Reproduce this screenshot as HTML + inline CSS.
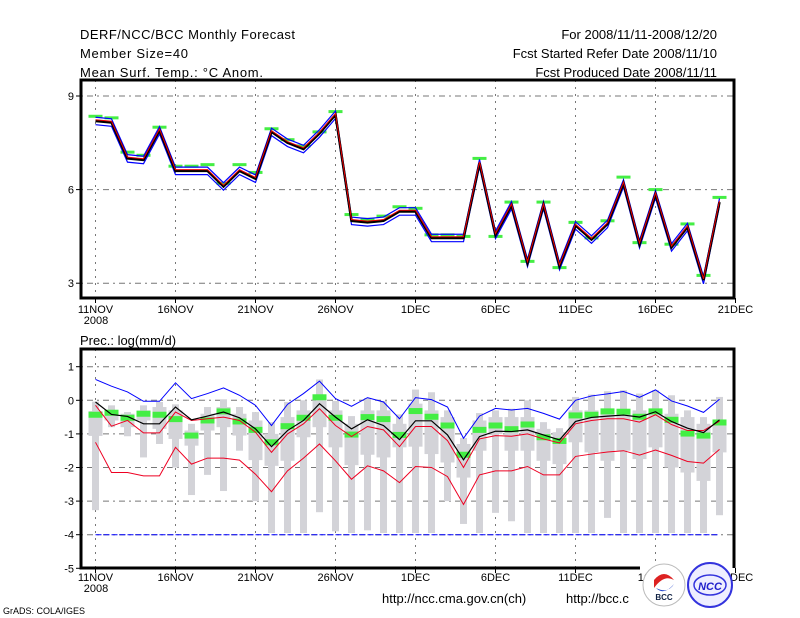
<!DOCTYPE html>
<html><head><meta charset="utf-8"><style>
body{margin:0;background:#fff;}
svg{display:block;font-family:"Liberation Sans",sans-serif;}
</style></head><body>
<svg id="c" width="800" height="618" viewBox="0 0 800 618" xmlns="http://www.w3.org/2000/svg">
<rect width="800" height="618" fill="#fff"/>
<g font-size="13" fill="#000">
<text x="80" y="39" textLength="215">DERF/NCC/BCC Monthly Forecast</text>
<text x="80" y="58" textLength="108">Member Size=40</text>
<text x="80" y="77" textLength="183">Mean Surf. Temp.: °C Anom.</text>
<text x="717" y="39" text-anchor="end">For 2008/11/11-2008/12/20</text>
<text x="717" y="58" text-anchor="end">Fcst Started Refer Date 2008/11/10</text>
<text x="717" y="77" text-anchor="end">Fcst Produced Date 2008/11/11</text>
<text x="80" y="345">Prec.: log(mm/d)</text>
<text x="382" y="603">http://ncc.cma.gov.cn(ch)</text>
<text x="566" y="603">http://bcc.c</text>
<text x="3" y="614" font-size="9">GrADS: COLA/IGES</text>
</g>
<g id="top"></g>
<g id="bot"></g>
<g>
<circle cx="664" cy="585" r="21" fill="#fff" stroke="#bbb"/>
<path d="M654 580 q10 -12 20 0 q-10 -6 -20 8z" fill="#d22"/>
<path d="M656 588 q8 8 18 -4 q-6 10 -18 4z" fill="#24c"/>
<text x="664" y="600" font-size="8" font-weight="bold" text-anchor="middle" fill="#124">BCC</text>
<circle cx="710" cy="585" r="22" fill="#eef" stroke="#33d" stroke-width="2"/>
<ellipse cx="710" cy="585" rx="16" ry="10" fill="none" stroke="#33d" stroke-width="1.5"/>
<text x="710" y="590" font-size="11" font-style="italic" font-weight="bold" text-anchor="middle" fill="#22c">NCC</text>
</g>
</svg>
<script>
const ns="http://www.w3.org/2000/svg";
const days=40;
const xTickLabels=["11NOV","16NOV","21NOV","26NOV","1DEC","6DEC","11DEC","16DEC","21DEC"];
const tempTicks=[9,6,3];
const precTicks=[1,0,-1,-2,-3,-4,-5];
const tempMean=[8.2,8.15,7.0,6.95,7.9,6.6,6.6,6.6,6.1,6.6,6.35,7.85,7.5,7.3,7.8,8.4,5.0,4.95,5.0,5.3,5.3,4.45,4.45,4.45,6.85,4.55,5.5,3.65,5.5,3.55,4.85,4.4,4.9,6.2,4.25,5.85,4.15,4.8,3.1,5.6];
const tempObsMark=[8.35,8.3,7.2,7.1,8.0,6.75,6.75,6.8,6.2,6.8,6.55,7.95,7.6,7.4,7.85,8.5,5.2,5.05,5.15,5.45,5.4,4.55,4.55,4.5,7.0,4.5,5.6,3.7,5.6,3.5,4.95,4.45,5.0,6.4,4.3,6.0,4.25,4.9,3.25,5.75];
const precMax=[.62,.42,.25,-.03,-.03,.52,.05,.2,.37,.15,-.15,-.75,-.12,.2,.57,.05,-.18,.08,-.05,-.55,.08,.02,-.2,-1.13,-.47,-.24,-.29,-.24,-.39,-.56,0,.13,.19,.26,.09,.31,-.02,-.17,-.36,.03];
const precMean=[-.05,-.42,-.48,-.7,-.7,-.2,-.58,-.47,-.35,-.52,-.85,-1.38,-.9,-.6,-.1,-.5,-.85,-.58,-.75,-1.17,-.61,-.61,-1.03,-1.77,-1.08,-.92,-.93,-.88,-1.03,-1.18,-.63,-.51,-.47,-.44,-.5,-.34,-.63,-.83,-.96,-.58];
const precRedHi=[-.15,-.77,-.6,-.97,-.97,-.35,-.6,-.55,-.5,-.6,-.95,-1.55,-1.0,-.7,-.25,-.75,-1.08,-.78,-.88,-1.38,-.78,-.78,-1.2,-2.0,-1.15,-1.05,-1.07,-1.0,-1.15,-1.27,-.7,-.6,-.55,-.55,-.65,-.43,-.72,-.9,-.9,-.62];
const precRedLo=[-1.25,-2.15,-2.15,-2.25,-2.25,-1.4,-1.9,-1.72,-1.72,-1.78,-2.2,-2.72,-2.1,-1.72,-1.3,-1.8,-2.35,-1.95,-2.1,-2.45,-1.97,-2.0,-2.27,-3.1,-2.22,-2.1,-2.1,-1.97,-2.22,-2.22,-1.67,-1.6,-1.54,-1.5,-1.63,-1.48,-1.64,-1.82,-1.87,-1.46];
const precGreen=[-.43,-.37,-.52,-.4,-.43,-.56,-1.05,-.6,-.33,-.63,-.88,-1.25,-.77,-.52,.09,-.52,-1.02,-.5,-.56,-1.03,-.32,-.49,-.75,-1.62,-.88,-.75,-.86,-.72,-1.1,-1.21,-.45,-.43,-.33,-.34,-.49,-.33,-.58,-.99,-1.05,-.66];
const whiskHi=[-.04,-.15,-.35,-.15,-.05,-.12,-.7,-.2,.03,-.2,-.35,-.65,-.05,0,.62,-.02,-.47,.07,-.02,-.42,.32,.24,-.3,-1.12,-.38,-.3,-.25,0,-.65,-.83,.1,.17,.27,.3,.2,.3,.15,-.3,-.5,.1];
const whiskLo=[-3.27,-.8,-1.07,-1.7,-1.3,-2.0,-2.82,-2.22,-2.7,-1.5,-3.0,-3.95,-3.95,-3.95,-3.33,-3.9,-3.95,-3.87,-3.95,-3.95,-3.95,-3.95,-3.0,-3.68,-3.95,-3.35,-3.6,-3.95,-3.95,-3.95,-3.95,-3.95,-3.5,-3.95,-3.95,-3.95,-3.95,-3.95,-3.95,-3.42];
const boxHi=[-.32,-.3,-.4,-.3,-.2,-.3,-.9,-.4,-.2,-.4,-.6,-1.0,-.5,-.3,0,-.3,-.7,-.3,-.3,-.7,-.1,-.3,-.5,-1.3,-.6,-.5,-.5,-.5,-.85,-.95,-.3,-.3,-.3,-.3,-.3,-.3,-.4,-.5,-.7,-.6];
const boxLo=[-1.06,-.6,-.8,-.6,-.85,-1.15,-1.35,-.9,-.8,-1.05,-1.78,-1.95,-1.8,-1.1,-.8,-1.4,-1.93,-1.62,-1.7,-1.4,-1.38,-1.6,-1.85,-2.3,-1.5,-1.0,-1.5,-1.5,-1.8,-1.9,-1.25,-1.55,-1.8,-1.5,-1.75,-1.4,-2.0,-2.15,-2.4,-1.55];
const precFloor=-4;

const X=d=>95.5+16*d;
const YT=v=>96+(9-v)*31.2;
const YB=v=>400.3-33.6*v;
function mk(p,t,a){const e=document.createElementNS(ns,t);for(const k in a)e.setAttribute(k,a[k]);p.appendChild(e);return e;}
function line(p,arr,yf,color,w,name){const e=mk(p,'polyline',{points:arr.map((v,i)=>X(i)+','+yf(v)).join(' '),fill:'none',stroke:color,'stroke-width':w});

return e;}
function grid(p,top,bot,yt,ticks,yf){
 for(let k=0;k<xTickLabels.length;k++){const x=X(k*5);
  if(k<8){const g=mk(p,'line',{x1:x,x2:x,y1:top,y2:bot,stroke:'#777','stroke-dasharray':'2,5'});
  
  }
  mk(p,'line',{x1:x,x2:x,y1:bot,y2:bot+5,stroke:'#000'});
  const t=mk(p,'text',{x:x,y:yt,'font-size':'11','text-anchor':'middle'});t.textContent=xTickLabels[k];
  
  }
 const t2=mk(p,'text',{x:96,y:yt+11,'font-size':'11','text-anchor':'middle'});t2.textContent='2008';
 
 
 ticks.forEach(v=>{const y=yf(v);
  const g=mk(p,'line',{x1:81,x2:734,y1:y,y2:y,stroke:'#777','stroke-dasharray':'2,4,6,4'});
  
  
  mk(p,'line',{x1:76,x2:81,y1:y,y2:y,stroke:'#000'});
  const t=mk(p,'text',{x:74,y:y+4,'font-size':'11','text-anchor':'end'});t.textContent=v;
  
  });
}
const T=document.getElementById('top');
grid(T,80,298,313,tempTicks,YT);
tempObsMark.forEach((v,i)=>{const r=mk(T,'rect',{x:X(i)-7,y:YT(v)-1.5,width:14,height:3,fill:'#4e4'});
 
 });
line(T,tempMean.map(v=>v-0.12),YT,'#00f',1.2,'temp-lower-bound');
line(T,tempMean.map(v=>v+0.12),YT,'#00f',1.2,'temp-upper-bound');
line(T,tempMean,YT,'#000',2.5,'temp-mean');
line(T,tempMean.map(v=>v+0.04),YT,'#e00',1,'temp-median');
const f1=mk(T,'rect',{x:81,y:80,width:653,height:218,fill:'none',stroke:'#000','stroke-width':3});


const B=document.getElementById('bot');
grid(B,349,568,581,precTicks.slice(0,6),YB);
mk(B,'line',{x1:76,x2:81,y1:YB(-5),y2:YB(-5),stroke:'#000'});
const t5=mk(B,'text',{x:74,y:YB(-5)+4,'font-size':'11','text-anchor':'end'});t5.textContent='-5';


for(let i=0;i<days;i++){
 const w=mk(B,'rect',{x:X(i)-3.5,y:YB(whiskHi[i]),width:7,height:YB(whiskLo[i])-YB(whiskHi[i]),fill:'#d3d3d8'});
 
 
 const b=mk(B,'rect',{x:X(i)-7,y:YB(boxHi[i]),width:14,height:YB(boxLo[i])-YB(boxHi[i]),fill:'#d3d3d8'});
 
 
}
precGreen.forEach((v,i)=>{const r=mk(B,'rect',{x:X(i)-7,y:YB(v)-3,width:14,height:6,fill:'#4e4'});
 
 });
const fl=mk(B,'line',{x1:X(0),x2:X(days-1),y1:YB(precFloor),y2:YB(precFloor),stroke:'#00f','stroke-width':1,'stroke-dasharray':'6,2'});


line(B,precMax,YB,'#00f',1,'prec-max');
line(B,precRedLo,YB,'#e02',1,'prec-lower');
line(B,precRedHi,YB,'#e02',1,'prec-upper');
line(B,precMean,YB,'#000',1.2,'prec-mean');
const fb=mk(B,'path',{d:'M640 568 L81 568 L81 349 L734 349 L734 568',fill:'none',stroke:'#000','stroke-width':3});


</script>
</body></html>
